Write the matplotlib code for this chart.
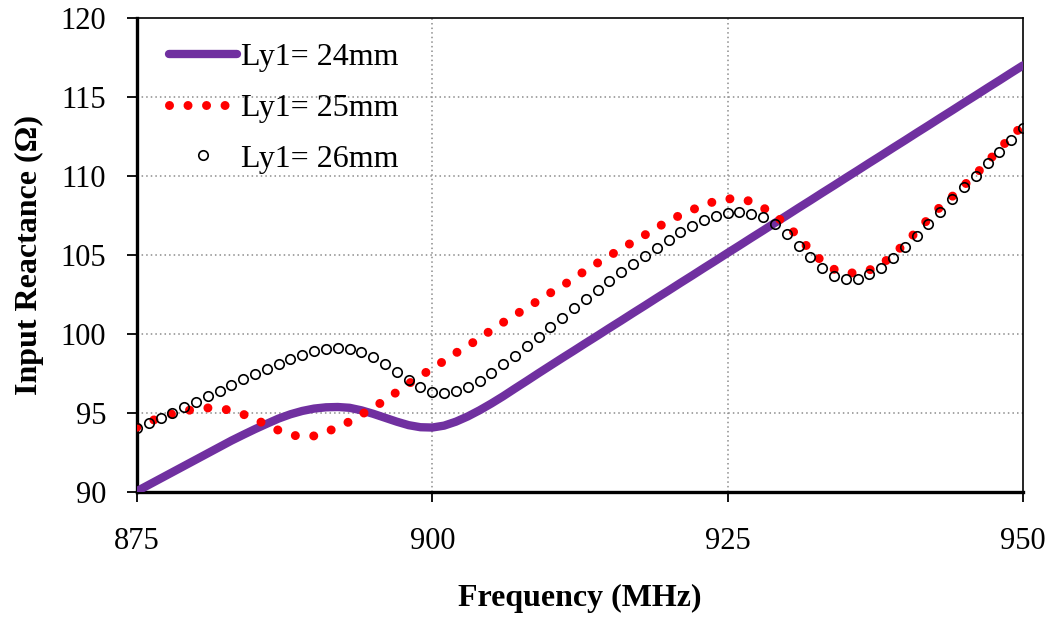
import matplotlib
matplotlib.use("Agg")
from matplotlib import pyplot as plt

plt.rcParams['font.family'] = ['Liberation Serif', 'DejaVu Serif']

# frequency grid (MHz), 1 MHz step
freq = list(range(875, 951))

# Ly1 = 24 mm
x_24 = [90.05, 90.45, 90.85, 91.25, 91.65, 92.05, 92.45, 92.85, 93.25, 93.62,
        93.98, 94.32, 94.65, 94.92, 95.13, 95.28, 95.36, 95.38, 95.33, 95.17,
        94.95, 94.70, 94.45, 94.23, 94.10, 94.08, 94.20, 94.45, 94.78, 95.17,
        95.60, 96.06, 96.55, 97.03, 97.52, 98.00, 98.48, 98.95, 99.43, 99.90,
        100.38, 100.85, 101.33, 101.80, 102.28, 102.75, 103.23, 103.70, 104.18, 104.65,
        105.13, 105.60, 106.08, 106.55, 107.03, 107.50, 107.98, 108.45, 108.93, 109.40,
        109.88, 110.35, 110.83, 111.30, 111.78, 112.25, 112.73, 113.20, 113.68, 114.15,
        114.63, 115.10, 115.58, 116.05, 116.53, 117.00]

# Ly1 = 25 mm
x_25 = [94.10, 94.45, 94.70, 94.95, 95.12, 95.25, 95.32, 95.30, 95.15, 94.92,
        94.60, 94.25, 93.90, 93.62, 93.50, 93.55, 93.75, 94.15, 94.45, 94.90,
        95.35, 95.80, 96.33, 96.85, 97.35, 97.82, 98.30, 98.80, 99.25, 99.72,
        100.25, 100.73, 101.20, 101.66, 102.13, 102.60, 103.05, 103.52, 104.04, 104.50,
        104.95, 105.40, 105.83, 106.27, 106.73, 107.15, 107.53, 107.86, 108.16, 108.42,
        108.55, 108.58, 108.38, 108.00, 107.50, 106.90, 106.15, 105.30, 104.60, 104.10,
        103.85, 103.88, 104.05, 104.40, 105.00, 105.73, 106.50, 107.30, 108.05, 108.70,
        109.40, 110.10, 110.90, 111.70, 112.50, 113.20]

# Ly1 = 26 mm
x_26 = [94.03, 94.35, 94.66, 94.98, 95.40, 95.72, 96.08, 96.41, 96.77, 97.13,
        97.45, 97.81, 98.12, 98.42, 98.67, 98.92, 99.05, 99.11, 99.05, 98.88,
        98.57, 98.10, 97.57, 97.09, 96.62, 96.35, 96.24, 96.37, 96.67, 97.05,
        97.55, 98.10, 98.63, 99.26, 99.83, 100.46, 101.03, 101.62, 102.22, 102.78,
        103.35, 103.90, 104.43, 104.94, 105.46, 105.95, 106.43, 106.84, 107.22, 107.49,
        107.66, 107.72, 107.62, 107.38, 106.94, 106.33, 105.57, 104.85, 104.20, 103.69,
        103.46, 103.50, 103.80, 104.20, 104.83, 105.49, 106.22, 106.96, 107.74, 108.52,
        109.28, 110.02, 110.80, 111.54, 112.28, 113.02]

xticks = [875, 900, 925, 950]
yticks = [90, 95, 100, 105, 110, 115, 120]

fig = plt.figure(figsize=(10.53, 6.17), dpi=100)
ax = fig.add_axes([0.130, 0.2026, 0.8415, 0.7682])

ax.plot(freq, x_24, color="#7030A0", lw=6, solid_capstyle="round",
        label="Ly1= 24mm", zorder=3)
ax.plot(freq, x_25, color="red", lw=6.5, linestyle=(0, (0.001, 2.05)),
        dash_capstyle="round", label="Ly1= 25mm", zorder=4)
ax.plot(freq, x_26, linestyle="none", marker="o", ms=6.8, mfc="none",
        mec="black", mew=1.2, label="Ly1= 26mm", zorder=5)

ax.set_xlim(875, 950)
ax.set_ylim(90, 120)
ax.set_xticks(xticks)
ax.set_yticks(yticks)

# dotted grid, only on interior ticks
for v in xticks[1:-1]:
    ax.axvline(v, color="#8c8c8c", lw=1.1, linestyle=(0, (1, 2)), zorder=1)
for v in yticks[1:-1]:
    ax.axhline(v, color="#8c8c8c", lw=1.1, linestyle=(0, (1, 2)), zorder=1)

for side in ["left", "bottom"]:
    ax.spines[side].set_linewidth(2.4)
for side in ["top", "right"]:
    ax.spines[side].set_linewidth(1.2)

ax.tick_params(axis="x", direction="out", length=7, width=1.3,
               labelsize=22, pad=18)
ax.tick_params(axis="y", direction="out", length=7, width=1.3,
               labelsize=22, pad=15)

ax.set_xlabel("Frequency (MHz)", fontsize=23, fontweight="bold", labelpad=20)
ax.set_ylabel("Input Reactance (\u03a9)", fontsize=23, fontweight="bold", labelpad=12)

leg = ax.legend(loc="upper left", bbox_to_anchor=(0.036, 0.948), frameon=False,
                fontsize=23, handlelength=2.15, handletextpad=0.12,
                labelspacing=0.67, numpoints=1, borderaxespad=0,
                borderpad=0)

fig.savefig("out.png", dpi=100)
